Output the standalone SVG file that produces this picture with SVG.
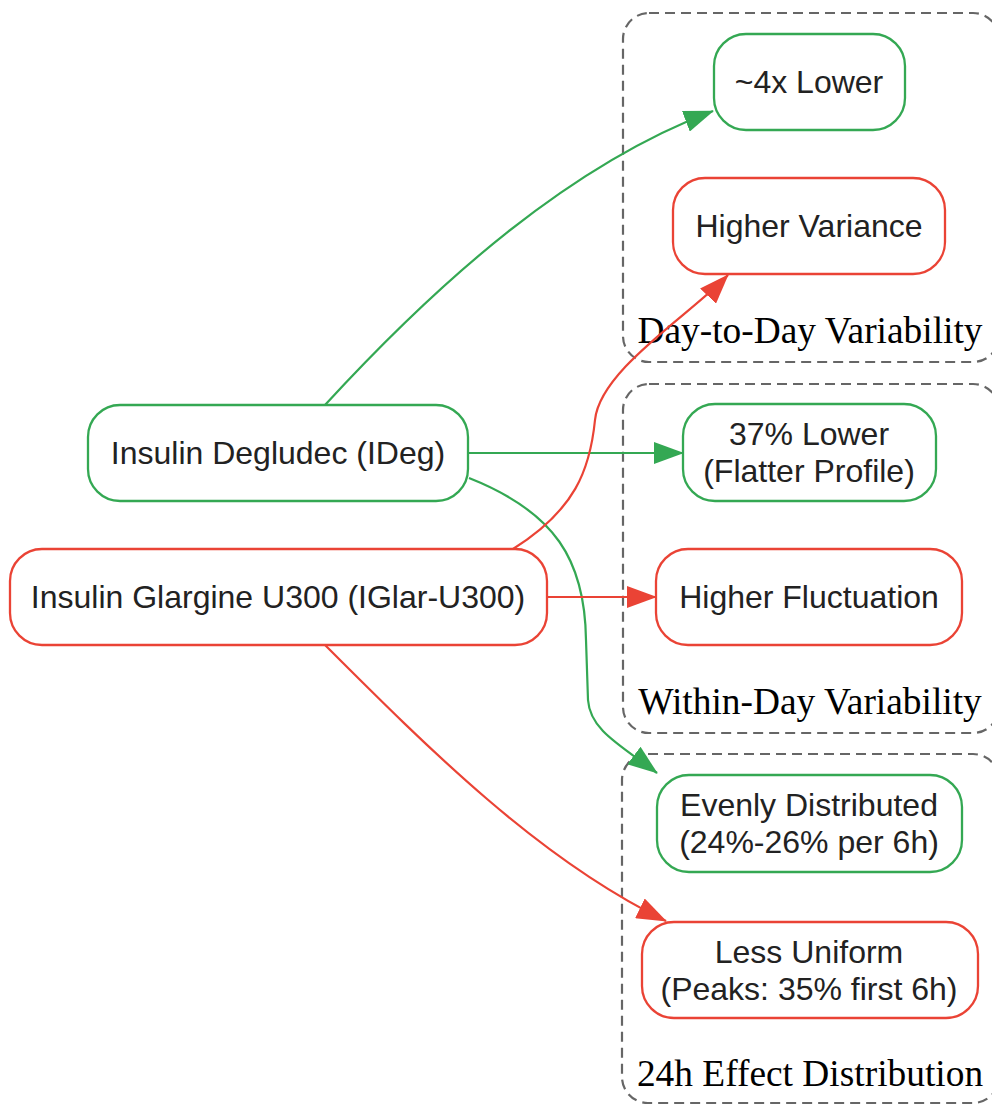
<svg xmlns="http://www.w3.org/2000/svg" width="992" height="1105" viewBox="0 0 992 1105">
<style>
.cl{fill:none;stroke:#666;stroke-width:2.2;stroke-dasharray:10,6}
.clt{font-family:"Liberation Serif",serif;font-size:37.4px;fill:#000;text-anchor:middle}
.g{fill:#fff;stroke:#34a853;stroke-width:2.3}
.r{fill:#fff;stroke:#ea4335;stroke-width:2.3}
.t{font-family:"Liberation Sans",Arial,sans-serif;font-size:32px;fill:#222;text-anchor:middle;dominant-baseline:central}
.eg{fill:none;stroke:#34a853;stroke-width:2.2}
.er{fill:none;stroke:#ea4335;stroke-width:2.2}
</style>
<defs>
<marker id="ag" viewBox="0 0 30 22" refX="29" refY="11" markerWidth="30" markerHeight="22" markerUnits="userSpaceOnUse" orient="auto"><path d="M0,0L30,11L0,22z" fill="#34a853"/></marker>
<marker id="ar" viewBox="0 0 30 22" refX="29" refY="11" markerWidth="30" markerHeight="22" markerUnits="userSpaceOnUse" orient="auto"><path d="M0,0L30,11L0,22z" fill="#ea4335"/></marker>
</defs>
<rect width="992" height="1105" fill="#fff"/>
<g id="cluster-day">
<rect class="cl" x="623" y="13" width="376" height="349" rx="26"/>
<text class="clt" x="810" y="343">Day-to-Day Variability</text>
</g>
<g id="cluster-within">
<rect class="cl" x="623" y="384" width="376" height="349" rx="26"/>
<text class="clt" x="810" y="714">Within-Day Variability</text>
</g>
<g id="cluster-24h">
<rect class="cl" x="622" y="754" width="377" height="349" rx="26"/>
<text class="clt" x="810" y="1086">24h Effect Distribution</text>
</g>
<g id="connectors">
<path class="eg" d="M325,405 C440,280 570,165 713,111" marker-end="url(#ag)"/>
<path class="eg" d="M468,453 L683,453" marker-end="url(#ag)"/>
<path class="eg" d="M469,478 C555,512 585,560 586,640 L588,700 C590,730 620,745 657,773" marker-end="url(#ag)"/>
<path class="er" d="M513,549 C575,510 590,470 595,420 C600,370 690,315 728,275" marker-end="url(#ar)"/>
<path class="er" d="M547,597 L656,597" marker-end="url(#ar)"/>
<path class="er" d="M325,645 C430,750 540,860 666,921" marker-end="url(#ar)"/>
</g>
<g id="n-ideg"><rect class="g" x="88" y="405" width="380" height="96" rx="32"/><text class="t" x="278" y="453">Insulin Degludec (IDeg)</text></g>
<g id="n-iglar"><rect class="r" x="10" y="549" width="537" height="96" rx="32"/><text class="t" x="278" y="597">Insulin Glargine U300 (IGlar-U300)</text></g>
<g id="n-4x"><rect class="g" x="714" y="34" width="191" height="96" rx="32"/><text class="t" x="809" y="82">~4x Lower</text></g>
<g id="n-var"><rect class="r" x="673" y="178" width="272" height="96" rx="32"/><text class="t" x="809" y="226">Higher Variance</text></g>
<g id="n-37"><rect class="g" x="683" y="404" width="253" height="97" rx="32"/><text class="t" x="809" y="434">37% Lower</text><text class="t" x="809" y="471">(Flatter Profile)</text></g>
<g id="n-fluct"><rect class="r" x="656" y="549" width="306" height="96" rx="32"/><text class="t" x="809" y="597">Higher Fluctuation</text></g>
<g id="n-even"><rect class="g" x="657" y="775" width="305" height="97" rx="32"/><text class="t" x="809" y="805">Evenly Distributed</text><text class="t" x="809" y="842">(24%-26% per 6h)</text></g>
<g id="n-less"><rect class="r" x="642" y="922" width="336" height="96" rx="32"/><text class="t" x="809" y="952">Less Uniform</text><text class="t" x="809" y="989">(Peaks: 35% first 6h)</text></g>
</svg>
